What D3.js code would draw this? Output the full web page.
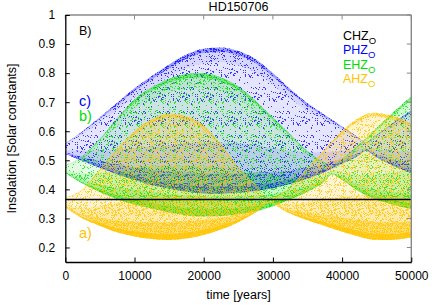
<!DOCTYPE html>
<html><head><meta charset="utf-8">
<script src="https://cdn.jsdelivr.net/npm/d3@7"></script>
<style>
body{margin:0;background:#fff}
svg{display:block}
text{font-family:"Liberation Sans",Arial,Helvetica,sans-serif}
</style>
</head><body>
<svg id="chart" width="436" height="305"></svg>
<script>
// ---------------- data ----------------
const title = "HD150706";
const xLabel = "time [years]";
const yLabel = "Insolation [Solar constants]";
const xTicks = [0, 10000, 20000, 30000, 40000, 50000];
const yTicks = [0.2, 0.3, 0.4, 0.5, 0.6, 0.7, 0.8, 0.9, 1];
const yTickLabels = ["0.2","0.3","0.4","0.5","0.6","0.7","0.8","0.9","1"];
const legendNames = ["CHZ", "PHZ", "EHZ", "AHZ"];

// CHZ (constant)
const chzT = [0, 50000];
const chzValue = [0.365, 0.365];

// PHZ (blue) envelope: upper / lower insolation
const phzT  = [0,2500,5000,7500,10000,12500,15000,17500,20000,22500,25000,27500,30000,32500,35000,37500,40000,42500,43400,45000,47500,50000];
const phzHi = [0.558,0.600,0.648,0.698,0.748,0.790,0.830,0.864,0.884,0.888,0.876,0.848,0.800,0.745,0.696,0.656,0.616,0.576,0.562,0.588,0.632,0.672];
const phzLo = [0.522,0.498,0.474,0.452,0.432,0.415,0.402,0.392,0.386,0.385,0.388,0.394,0.404,0.418,0.437,0.460,0.488,0.518,0.532,0.510,0.480,0.455];

// EHZ (green)
const ehzT  = [0,2500,5000,7500,10000,12500,15000,17500,19500,22500,25000,27500,30000,32500,35000,37500,38500,40000,42500,45000,47500,50000];
const ehzHi = [0.483,0.515,0.575,0.645,0.710,0.752,0.781,0.797,0.800,0.785,0.755,0.705,0.648,0.590,0.532,0.492,0.480,0.505,0.555,0.612,0.668,0.720];
const ehzLo = [0.456,0.420,0.390,0.366,0.347,0.334,0.320,0.311,0.307,0.308,0.314,0.325,0.342,0.365,0.392,0.428,0.452,0.432,0.392,0.364,0.346,0.332];

// AHZ (gold)
const ahzT  = [0,2500,5000,7500,10000,12500,15000,17500,20000,22500,25000,27500,29500,32000,34500,37000,39500,42000,44500,47000,50000];
const ahzHi = [0.372,0.400,0.470,0.540,0.600,0.642,0.660,0.652,0.620,0.555,0.475,0.415,0.372,0.400,0.460,0.525,0.590,0.640,0.664,0.655,0.627];
const ahzLo = [0.338,0.300,0.275,0.252,0.238,0.229,0.226,0.231,0.243,0.262,0.287,0.320,0.352,0.322,0.298,0.278,0.258,0.240,0.227,0.226,0.234];

// ---------------- layout / style ----------------
const M = {left: 65.3, right: 411.3, top: 15, bottom: 262};
const colors = {CHZ: "#000000", PHZ: "#0000ff", EHZ: "#00dd00", AHZ: "#ffc400"};
const gain = {PHZ: 1.0, EHZ: 1.15, AHZ: 1.7};

const svg = d3.select("#chart");
const defs = svg.append("defs");
const x = d3.scaleLinear().domain([0, 50000]).range([M.left, M.right]);
const y = d3.scaleLinear().domain([0.15, 1]).range([M.bottom, M.top]);

defs.append("clipPath").attr("id", "clip")
  .append("rect").attr("x", M.left).attr("y", M.top)
  .attr("width", M.right - M.left).attr("height", M.bottom - M.top);

// speckle texture (purely visual styling of the point clouds)
const TILE = 24;
function speckle(id, color, density, seed) {
  const p = defs.append("pattern").attr("id", id).attr("patternUnits", "userSpaceOnUse")
    .attr("width", TILE).attr("height", TILE);
  let s = seed;
  for (let yy = 0; yy < TILE; yy++) for (let xx = 0; xx < TILE; xx++) {
    s = (s * 1103515245 + 12345) % 2147483648;
    if (s / 2147483648 < density)
      p.append("rect").attr("x", xx).attr("y", yy).attr("width", 1).attr("height", 1)
        .attr("fill", color).attr("fill-opacity", 0.75);
  }
  return `url(#${id})`;
}

// density strips between lower (0) and upper (1) envelope: wash opacity + speckle density
const strips = [
  {f0: 0.00, f1: 0.05, a: 0.50, d: 0.40, top: false},
  {f0: 0.05, f1: 0.14, a: 0.32, d: 0.28, top: false},
  {f0: 0.14, f1: 0.35, a: 0.19, d: 0.17, top: false},
  {f0: 0.35, f1: 0.90, a: 0.10, d: 0.10, top: false},
  {f0: 0.90, f1: 0.97, a: 0.16, d: 0.14, top: true},
  {f0: 0.97, f1: 1.00, a: 0.40, d: 0.32, top: true}
];

const plot = svg.append("g").attr("clip-path", "url(#clip)");

function drawBand(name, T, Hi, Lo, color, g0, seed) {
  const idx = d3.range(T.length);
  const g = plot.append("g");
  strips.forEach((s, k) => {
    const gk = s.top ? Math.min(g0, 1.2) : g0;
    const area = d3.area()
      .x(i => x(T[i]))
      .y0(i => y(Lo[i] + s.f0 * (Hi[i] - Lo[i])))
      .y1(i => y(Lo[i] + s.f1 * (Hi[i] - Lo[i])))
      .curve(d3.curveMonotoneX);
    g.append("path").datum(idx).attr("d", area).attr("fill", color)
      .attr("fill-opacity", Math.min(0.9, s.a * gk)).attr("stroke", "none");
    const fill = speckle(`${name}${k}`, color, Math.min(0.9, s.d * gk), seed + k * 7919);
    g.append("path").datum(idx).attr("d", area).attr("fill", fill).attr("stroke", "none");
  });
}

drawBand("phz", phzT, phzHi, phzLo, colors.PHZ, gain.PHZ, 101);
drawBand("ehz", ehzT, ehzHi, ehzLo, colors.EHZ, gain.EHZ, 2027);
drawBand("ahz", ahzT, ahzHi, ahzLo, colors.AHZ, gain.AHZ, 30011);

// CHZ line
plot.append("path")
  .datum(d3.range(chzT.length))
  .attr("d", d3.line().x(i => x(chzT[i])).y(i => y(chzValue[i])))
  .attr("stroke", colors.CHZ).attr("stroke-width", 1.3).attr("fill", "none");

// ---------------- axes ----------------
const tickLen = 4.5;
svg.append("line").attr("x1", M.left).attr("x2", M.right).attr("y1", M.top).attr("y2", M.top)
  .attr("stroke", "#888").attr("stroke-width", 1.4);
svg.append("line").attr("x1", M.right).attr("x2", M.right).attr("y1", M.top).attr("y2", M.bottom)
  .attr("stroke", "#888").attr("stroke-width", 1.4);

xTicks.forEach(t => {
  svg.append("line").attr("x1", x(t)).attr("x2", x(t)).attr("y1", M.top).attr("y2", M.top + tickLen)
    .attr("stroke", "#888").attr("stroke-width", 1);
});
yTicks.forEach(v => {
  svg.append("line").attr("x1", M.right).attr("x2", M.right - tickLen).attr("y1", y(v)).attr("y2", y(v))
    .attr("stroke", "#888").attr("stroke-width", 1);
});

const xAxis = d3.axisBottom(x).tickValues(xTicks).tickSizeInner(-tickLen).tickSizeOuter(0)
  .tickPadding(9).tickFormat(d3.format("d"));
const gx = svg.append("g").attr("transform", `translate(0,${M.bottom})`).call(xAxis);
gx.select(".domain").attr("stroke", "#000").attr("stroke-width", 1.3);
gx.selectAll(".tick line").attr("stroke", "#000");
gx.selectAll("text").attr("font-size", 12).attr("fill", "#000")
  .attr("font-family", '"Liberation Sans",Arial,sans-serif');

const yAxis = d3.axisLeft(y).tickValues(yTicks).tickSizeInner(-tickLen).tickSizeOuter(0)
  .tickPadding(10).tickFormat((d, i) => yTickLabels[i]);
const gy = svg.append("g").attr("transform", `translate(${M.left},0)`).call(yAxis);
gy.select(".domain").attr("stroke", "#000").attr("stroke-width", 1.3);
gy.selectAll(".tick line").attr("stroke", "#000");
gy.selectAll("text").attr("font-size", 12).attr("fill", "#000")
  .attr("font-family", '"Liberation Sans",Arial,sans-serif');

// titles
svg.append("text").attr("x", 238.5).attr("y", 11).attr("text-anchor", "middle")
  .attr("font-size", 12.5).text(title);
svg.append("text").attr("x", 238.5).attr("y", 299).attr("text-anchor", "middle")
  .attr("font-size", 12.5).text(xLabel);
svg.append("text").attr("transform", `translate(15.5,${(M.top + M.bottom) / 2}) rotate(-90)`)
  .attr("text-anchor", "middle").attr("font-size", 12.5).text(yLabel);

// panel labels
svg.append("text").attr("x", 79).attr("y", 34.5).attr("font-size", 12.5).attr("fill", "#000").text("B)");
svg.append("text").attr("x", 79).attr("y", 105.5).attr("font-size", 14.5).attr("fill", colors.PHZ).text("c)");
svg.append("text").attr("x", 79).attr("y", 120.5).attr("font-size", 14.5).attr("fill", colors.EHZ).text("b)");
svg.append("text").attr("x", 79).attr("y", 237.5).attr("font-size", 14.5).attr("fill", colors.AHZ).text("a)");

// legend
legendNames.forEach((n, i) => {
  const t = svg.append("text").attr("x", 343).attr("y", 39.5 + i * 14.5)
    .attr("font-size", 12.5).attr("fill", colors[n]);
  t.append("tspan").text(n);
  t.append("tspan").attr("dy", 4).attr("font-size", 9.5).text("O");
});
</script>
</body></html>
